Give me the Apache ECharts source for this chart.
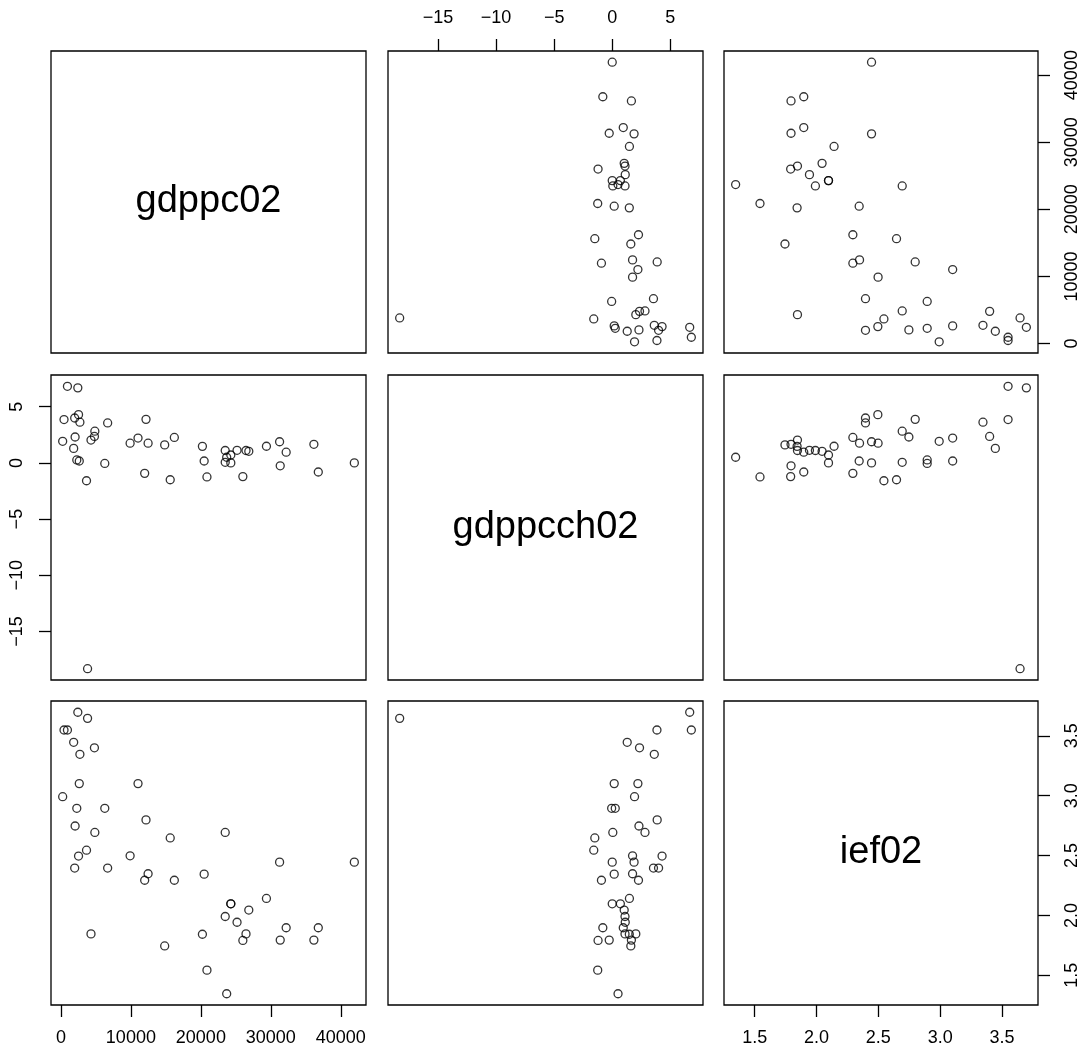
<!DOCTYPE html>
<html>
<head>
<meta charset="utf-8">
<title>pairs</title>
<script src="https://cdn.jsdelivr.net/npm/echarts@6/dist/echarts.min.js"></script>
<style>
	html, body { margin: 0; padding: 0; background: #fff; }
	#chart { width: 1087px; height: 1051px; }
</style>
</head>
<body>
<div id="chart"></div>
<script>
	// one entry per country
	var gdppc02 = [41930, 36150, 36780, 31340, 32190, 31250, 29370, 26000, 26450, 26850,
		25170, 24280, 24280, 23480, 23690, 23480, 20870, 20220, 20470, 16210,
		15620, 14830, 11970, 12460, 12160, 11020, 9890, 6680, 6270, 4300,
		4850, 4790, 3810, 3660, 2520, 1970, 2030, 2270, 2625, 2714,
		1824, 934, 445, 2418, 252];
	var gdppcch02 = [0.0, 1.65, -0.81, -0.26, 0.95, 1.88, 1.48, -1.22, 1.1, 1.03,
		1.12, 0.0, 0.7, 1.1, 0.5, 0.05, -1.25, 1.47, 0.17, 2.26,
		-1.5, 1.6, -0.93, 1.75, 3.87, 2.21, 1.75, 3.55, -0.05, 2.03,
		2.82, 2.35, -18.3, -1.59, 4.29, 3.99, 2.3, 0.26, 0.17, 3.62,
		1.29, 6.81, 3.85, 6.67, 1.92];
	var ief02 = [2.445, 1.794, 1.897, 1.794, 1.897, 2.445, 2.142, 1.791, 1.846, 2.045,
		1.943, 2.097, 2.097, 1.991, 1.346, 2.693, 1.543, 1.843, 2.345, 2.294,
		2.647, 1.745, 2.294, 2.348, 2.798, 3.101, 2.498, 2.396, 2.895, 1.846,
		2.693, 3.400, 3.646, 2.545, 2.496, 2.396, 2.747, 2.895, 3.101, 3.346,
		3.446, 3.549, 3.549, 3.697, 2.992];

	var varNames = ['gdppc02', 'gdppcch02', 'ief02'];
	var gdppcTicks = [0, 10000, 20000, 30000, 40000];
	var gdppcTickLabels = ['0', '10000', '20000', '30000', '40000'];
	var gdppcchTicks = [-15, -10, -5, 0, 5];
	var gdppcchTickLabels = ['\u221215', '\u221210', '\u22125', '0', '5'];
	var iefTicks = [1.5, 2, 2.5, 3, 3.5];
	var iefTickLabels = ['1.5', '2.0', '2.5', '3.0', '3.5'];

	var vars = [gdppc02, gdppcch02, ief02];
	var ticks = [gdppcTicks, gdppcchTicks, iefTicks];
	var tickLabels = [gdppcTickLabels, gdppcchTickLabels, iefTickLabels];

	// panel layout
	var colLeft = [51, 388, 724];
	var colWidth = [315, 315, 314];
	var rowTop = [51, 375, 701];
	var rowHeight = [302, 305, 304];

	var font = 'Liberation Sans, Arial, Helvetica, sans-serif';

	// R style range: data range padded by 4% each side
	function padRange(arr) {
		var lo = Math.min.apply(null, arr);
		var hi = Math.max.apply(null, arr);
		var d = (hi - lo) * 0.04;
		return [lo - d, hi + d];
	}
	var ranges = vars.map(padRange);

	function labelFormatter(k) {
		return function (v) {
			var i = ticks[k].indexOf(v);
			return i >= 0 ? tickLabels[k][i] : '';
		};
	}

	var grids = [], xAxes = [], yAxes = [], series = [], graphics = [];
	for (var r = 0; r < 3; r++) {
		for (var c = 0; c < 3; c++) {
			var idx = r * 3 + c;
			grids.push({
				left: colLeft[c], top: rowTop[r], width: colWidth[c], height: rowHeight[r],
				show: true, borderColor: '#000', borderWidth: 1.3,
				backgroundColor: 'transparent', containLabel: false, outerBoundsMode: 'none'
			});
			// which sides carry ticks (alternating like R pairs)
			var showX = (r === 0 && c === 1) || (r === 2 && (c === 0 || c === 2));
			var showY = (r === 0 && c === 2) || (r === 1 && c === 0) || (r === 2 && c === 2);
			xAxes.push({
				gridIndex: idx, type: 'value',
				min: ranges[c][0], max: ranges[c][1],
				position: r === 0 ? 'top' : 'bottom',
				axisLine: { show: false, onZero: false },
				splitLine: { show: false },
				axisTick: { show: showX, length: 12, inside: false, customValues: ticks[c],
					lineStyle: { color: '#000', width: 1.3 } },
				axisLabel: { show: showX, customValues: ticks[c], margin: 24, fontSize: 18,
					color: '#000', fontFamily: font, formatter: labelFormatter(c) }
			});
			yAxes.push({
				gridIndex: idx, type: 'value',
				min: ranges[r][0], max: ranges[r][1],
				position: c === 0 ? 'left' : 'right',
				axisLine: { show: false, onZero: false },
				splitLine: { show: false },
				axisTick: { show: showY, length: 12, inside: false, customValues: ticks[r],
					lineStyle: { color: '#000', width: 1.3 } },
				axisLabel: { show: showY, customValues: ticks[r], margin: 25, fontSize: 18,
					rotate: 90, color: '#000', fontFamily: font, formatter: labelFormatter(r) }
			});
			if (r === c) {
				graphics.push({
					type: 'text',
					x: colLeft[c] + colWidth[c] / 2,
					y: rowTop[r] + rowHeight[r] / 2,
					style: { text: varNames[r], fontSize: 38, fontFamily: font, fill: '#000',
						align: 'center', verticalAlign: 'middle' }
				});
			} else {
				var pts = [];
				for (var i = 0; i < gdppc02.length; i++) {
					pts.push([vars[c][i], vars[r][i]]);
				}
				series.push({
					type: 'scatter',
					xAxisIndex: idx, yAxisIndex: idx,
					data: pts,
					symbol: 'circle', symbolSize: 8,
					itemStyle: { color: 'rgba(0,0,0,0)', borderColor: '#000', borderWidth: 1.3 },
					emphasis: { disabled: true },
					silent: true
				});
			}
		}
	}

	var chart = echarts.init(document.getElementById('chart'));
	chart.setOption({
		backgroundColor: '#fff',
		animation: false,
		grid: grids,
		xAxis: xAxes,
		yAxis: yAxes,
		series: series,
		graphic: graphics
	});
</script>
</body>
</html>
